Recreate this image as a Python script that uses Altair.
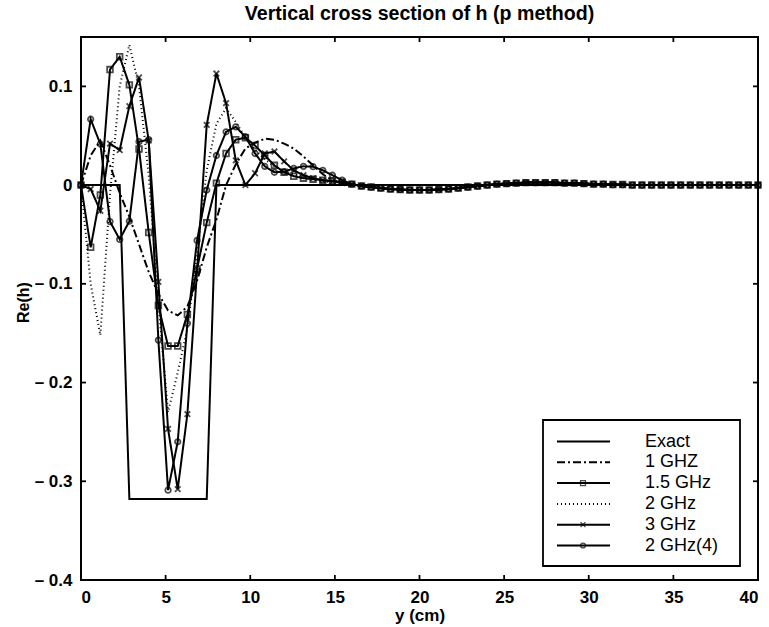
import altair as alt
import pandas as pd

# ---------------- data ----------------
labels = ["Exact", "1 GHZ", "1.5 GHz", "2 GHz", "3 GHz", "2 GHz(4)"]
n_pts = 71
x_max = 40
y_cm = [i * x_max / (n_pts - 1) for i in range(n_pts)]

exact_head = [0, 0, 0, 0, 0, -0.318, -0.318, -0.318, -0.318, -0.318, -0.318, -0.318,
              -0.318, -0.318, 0, 0, 0, 0, 0, 0, 0, 0, 0, 0, 0, 0, 0, 0]
ghz1_head = [0, 0.03, 0.045, 0.02, -0.008, -0.032, -0.06, -0.088, -0.11, -0.127, -0.132,
             -0.123, -0.097, -0.063, -0.035, 0.0, 0.021, 0.037, 0.043, 0.047, 0.046, 0.042,
             0.037, 0.029, 0.02, 0.011, 0.005, 0.002]
ghz15_head = [0, -0.063, -0.010, 0.117, 0.130, 0.1015, 0.0365, -0.048, -0.122, -0.163,
              -0.163, -0.131, -0.085, -0.038, 0.002, 0.032, 0.046, 0.048, 0.040, 0.030,
              0.020, 0.013, 0.009, 0.007, 0.006, 0.005, 0.004, 0.003]
ghz2_head = [0, -0.10, -0.152, -0.01, 0.10, 0.142, 0.10, 0.01, -0.12, -0.23, -0.19,
             -0.145, -0.07, 0.015, 0.062, 0.078, 0.064, 0.048, 0.036, 0.026, 0.019, 0.014,
             0.011, 0.008, 0.006, 0.004, 0.003, 0.002]
ghz3_head = [0, -0.004, -0.026, 0.042, 0.0355, 0.080, 0.109, 0.045, -0.098, -0.247,
             -0.308, -0.232, -0.087, 0.061, 0.113, 0.083, 0.025, 0.0, 0.012, 0.032, 0.034,
             0.024, 0.015, 0.010, 0.007, 0.005, 0.004, 0.002]
ghz24_head = [0, 0.0667, 0.0416, -0.037, -0.055, -0.0366, 0.044, 0.046, -0.157, -0.309,
              -0.26, -0.140, -0.056, -0.005, 0.030, 0.054, 0.059, 0.049, 0.032, 0.019,
              0.013, 0.0135, 0.017, 0.019, 0.0186, 0.015, 0.010, 0.005]

tail = [0.001, -0.001, -0.002, -0.003, -0.004, -0.0045, -0.005, -0.005, -0.005, -0.0045,
        -0.004, -0.003, -0.002, -0.001, 0.0, 0.001, 0.0015, 0.002, 0.0025, 0.0025, 0.0025,
        0.0025, 0.002, 0.002, 0.0015, 0.001, 0.001, 0.0005, 0.0005,
        0, 0, 0, 0, 0, 0, 0, 0, 0, 0, 0, 0, 0, 0]
exact_tail = [0] * 43

series_values = {
    "Exact": exact_head + exact_tail,
    "1 GHZ": ghz1_head + tail,
    "1.5 GHz": ghz15_head + tail,
    "2 GHz": ghz2_head + tail,
    "3 GHz": ghz3_head + tail,
    "2 GHz(4)": ghz24_head + tail,
}

x_ticks = [0, 5, 10, 15, 20, 25, 30, 35, 40]
y_ticks = [-0.4, -0.3, -0.2, -0.1, 0, 0.1]

rows = []
for s in labels:
    for i, (xv, yv) in enumerate(zip(y_cm, series_values[s])):
        rows.append({"series": s, "y_cm": xv, "re": yv, "idx": i})
df = pd.DataFrame(rows)

# ---------------- styles ----------------
W, H = 677, 543
FONT = "Liberation Sans"
dashes = [[1, 0], [8, 3, 2, 3], [1, 0], [1, 3], [1, 0], [1, 0]]
marker_series = ["1.5 GHz", "3 GHz", "2 GHz(4)"]
marker_shapes = ["square", "M-1,-1L1,1M-1,1L1,-1", "circle"]
marker_sizes = [32, 30, 55]

xscale = alt.Scale(domain=[0, 40], nice=False, zero=False)
yscale = alt.Scale(domain=[-0.4, 0.15], nice=False, zero=False)

y_label_expr = ("datum.value < 0 ? '\u2013 ' + format(-datum.value, '.1f') : "
                "(datum.value == 0 ? '0' : format(datum.value, '.1f'))")

base = alt.Chart(df)

lines = base.mark_line(color="black", strokeWidth=2).encode(
    x=alt.X("y_cm:Q", scale=xscale,
            axis=alt.Axis(values=x_ticks, title="y (cm)", format="d", titlePadding=2)),
    y=alt.Y("re:Q", scale=yscale,
            axis=alt.Axis(values=y_ticks, title="Re(h)", labelExpr=y_label_expr,
                          titleX=-58, titleY=265, titleBaseline="middle",
                          titleAlign="center", titleAngle=270, titleFontSize=16)),
    strokeDash=alt.StrokeDash("series:N", scale=alt.Scale(domain=labels, range=dashes),
                              legend=None),
    detail="series:N",
    order="idx:Q",
)

points = alt.Chart(df[df["series"].isin(marker_series)]).mark_point(
    color="black", filled=False, strokeWidth=1.8
).encode(
    x=alt.X("y_cm:Q", scale=xscale),
    y=alt.Y("re:Q", scale=yscale),
    shape=alt.Shape("series:N", scale=alt.Scale(domain=marker_series, range=marker_shapes),
                    legend=None),
    size=alt.Size("series:N", scale=alt.Scale(domain=marker_series, range=marker_sizes),
                  legend=None),
)

# inward ticks (MATLAB style) on all four sides
tick_len = 5
xt = pd.DataFrame({"y_cm": x_ticks})
yt = pd.DataFrame({"re": y_ticks})
tick_style = dict(color="black", strokeWidth=1.8)
xt_bottom = alt.Chart(xt).mark_rule(**tick_style).encode(
    x=alt.X("y_cm:Q", scale=xscale), y=alt.value(H), y2=alt.value(H - tick_len))
xt_top = alt.Chart(xt).mark_rule(**tick_style).encode(
    x=alt.X("y_cm:Q", scale=xscale), y=alt.value(0), y2=alt.value(tick_len))
yt_left = alt.Chart(yt).mark_rule(**tick_style).encode(
    y=alt.Y("re:Q", scale=yscale), x=alt.value(0), x2=alt.value(tick_len))
yt_right = alt.Chart(yt).mark_rule(**tick_style).encode(
    y=alt.Y("re:Q", scale=yscale), x=alt.value(W), x2=alt.value(W - tick_len))

# ---------------- manual legend ----------------
leg_x0, leg_x1, leg_y0, leg_y1 = 462, 659, 383, 529
row_y0, row_step = 404.5, 20.8
line_x0, line_x1, mark_x, text_x = 476, 529, 502, 564
leg_df = pd.DataFrame({"series": labels})
leg_df["ly"] = [row_y0 + row_step * i for i in range(len(labels))]

leg_box = alt.Chart(pd.DataFrame({"a": [0]})).mark_rect(
    fill="white", stroke="black", strokeWidth=1.8
).encode(x=alt.value(leg_x0), x2=alt.value(leg_x1), y=alt.value(leg_y0), y2=alt.value(leg_y1))

leg_lines = alt.Chart(leg_df).mark_rule(color="black", strokeWidth=2).encode(
    x=alt.value(line_x0), x2=alt.value(line_x1),
    y=alt.Y("ly:Q", scale=None),
    strokeDash=alt.StrokeDash("series:N", scale=alt.Scale(domain=labels, range=dashes),
                              legend=None),
)
leg_marks = alt.Chart(leg_df[leg_df["series"].isin(marker_series)]).mark_point(
    color="black", filled=False, strokeWidth=1.3
).encode(
    x=alt.value(mark_x),
    y=alt.Y("ly:Q", scale=None),
    shape=alt.Shape("series:N", scale=alt.Scale(domain=marker_series, range=marker_shapes),
                    legend=None),
    size=alt.value(24),
)
leg_text = alt.Chart(leg_df).mark_text(
    align="left", baseline="middle", font=FONT, fontSize=18, color="black"
).encode(x=alt.value(text_x), y=alt.Y("ly:Q", scale=None), text="series:N")

chart = alt.layer(
    lines, points, xt_bottom, xt_top, yt_left, yt_right,
    leg_box, leg_lines, leg_marks, leg_text
).properties(
    width=W, height=H,
    title=alt.TitleParams("Vertical cross section of h (p method)", font=FONT, fontSize=19.6,
                          fontWeight="bold", anchor="middle", offset=12, color="black"),
    autosize=alt.AutoSizeParams(type="none"),
    padding={"left": 81, "top": 37, "right": 11, "bottom": 47},
).configure_view(
    stroke="black", strokeWidth=2
).configure_axis(
    domain=False, ticks=False, grid=False,
    labelFont=FONT, labelFontSize=17, labelFontWeight="bold", labelColor="black",
    labelPadding=9,
    titleFont=FONT, titleFontSize=17, titleFontWeight="bold", titleColor="black",
)

chart.save("out.html", embed_options={"renderer": "svg", "actions": False})
